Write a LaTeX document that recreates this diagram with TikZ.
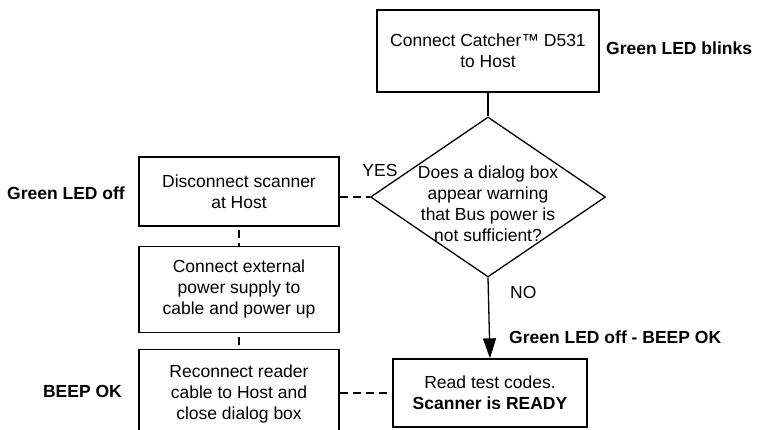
\documentclass[tikz,border=0pt]{standalone}
\usepackage{fontspec}
\setmainfont{Liberation Sans}
\usepackage{tikz}
\usetikzlibrary{shapes.geometric, arrows.meta, positioning, calc}

\tikzset{
    stepbox/.style={draw, line width=1.3pt, rectangle, align=center, inner sep=0pt,
                    font=\fontsize{17.5}{21}\selectfont},
    decision/.style={draw, line width=1.3pt, diamond, inner sep=0pt,
                     minimum width=235pt, minimum height=160pt},
    ledtext/.style={font=\fontsize{17.5}{21}\selectfont\bfseries, inner sep=0pt},
    answer/.style={font=\fontsize{17.5}{21}\selectfont, inner sep=0pt},
    link/.style={line width=1.3pt, dash pattern=on 8pt off 5pt},
    flow/.style={line width=1.3pt, -{Triangle[length=20pt,width=13pt]}}
}

\begin{document}
\begin{tikzpicture}[x=1pt, y=-1pt]
    \useasboundingbox (0,0) rectangle (760,430);

    % main column
    \node[stepbox, minimum width=222pt, minimum height=82pt] (start) at (488,51)
        {Connect Catcher™ D531\\to Host};
    \node[decision, label={[answer, align=center, yshift=-7pt]center:{Does a dialog box\\appear warning\\that Bus power is\\not sufficient?}}]
        (query) at (488,197) {};
    \node[stepbox, minimum width=194pt, minimum height=68pt] (ready) at (490,393)
        {Read test codes.\\\textbf{Scanner is READY}};

    % left column
    \node[stepbox, minimum width=200pt, minimum height=69pt] (disc) at (239,191.5)
        {Disconnect scanner\\at Host};
    \node[stepbox, minimum width=200pt, minimum height=86pt, below=19pt of disc] (power)
        {Connect external\\power supply to\\cable and power up};
    \node[stepbox, minimum width=200pt, minimum height=88pt, below=16pt of power] (reconn)
        {Reconnect reader\\cable to Host and\\close dialog box};

    % led / beep notes
    \node[ledtext, anchor=west] (blinks) at (606,48) {Green LED blinks};
    \node[ledtext, anchor=east] (ledoff) at (125,193) {Green LED off};
    \node[ledtext, anchor=east] (beepok) at (122,391) {BEEP OK};
    \node[ledtext, anchor=west] (offbeep) at (509,337) {Green LED off - BEEP OK};
    \node[answer] (yes) at (380,170) {YES};
    \node[answer, anchor=west] (no) at (510,292) {NO};

    % connectors
    \draw[line width=1.3pt] (start) -- (query);
    \draw[flow] (query.south) -- (ready.north);
    \draw[link] (query.west -| disc.east) -- (query.west);
    \draw[link, dash phase=-3pt] (disc) -- (power);
    \draw[link, dash phase=-4pt] (power) -- (reconn);
    \draw[link] (ready.west -| reconn.east) -- (ready.west);
\end{tikzpicture}
\end{document}
